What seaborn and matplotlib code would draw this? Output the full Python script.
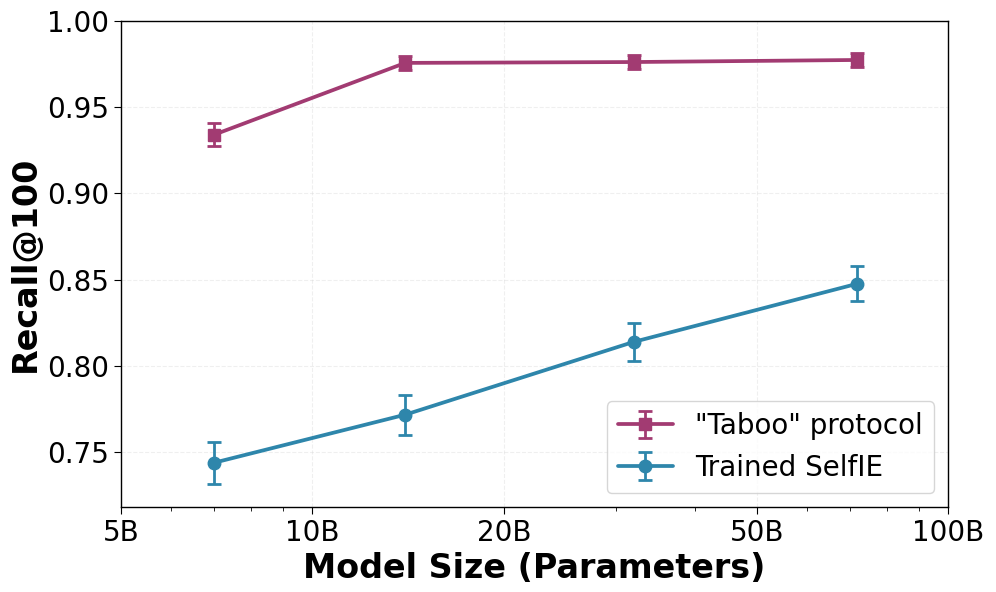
import matplotlib
matplotlib.use("Agg")
import matplotlib.pyplot as plt
import seaborn as sns
import numpy as np
from matplotlib.ticker import FixedLocator, FixedFormatter, NullFormatter, LogLocator

sns.set_style("ticks")
plt.rcParams['font.family'] = ['DejaVu Sans']
plt.rcParams.update({"text.color": "black", "axes.labelcolor": "black",
                     "xtick.color": "black", "ytick.color": "black"})

sizes = [7, 14, 32, 72]  # billions of parameters
taboo_vals = [0.934, 0.9757, 0.9762, 0.9774]
taboo_err = [0.0068, 0.0040, 0.0040, 0.0040]
selfie_vals = [0.7437, 0.7716, 0.8138, 0.8476]
selfie_err = [0.0123, 0.0116, 0.0108, 0.0102]

xticks = [5, 10, 20, 50, 100]
xtick_labels = ["5B", "10B", "20B", "50B", "100B"]

fig, ax = plt.subplots(figsize=(9.96, 5.92), dpi=100)
fig.subplots_adjust(left=0.1215, right=0.952, top=0.9645, bottom=0.1435)

ax.errorbar(sizes, taboo_vals, yerr=taboo_err, color="#A23B72", marker="s",
            markersize=9, linewidth=2.7, capsize=5, capthick=2, elinewidth=2,
            label='"Taboo" protocol')
ax.errorbar(sizes, selfie_vals, yerr=selfie_err, color="#2E86AB", marker="o",
            markersize=9, linewidth=2.7, capsize=5, capthick=2, elinewidth=2,
            label="Trained SelfIE")

ax.set_xscale("log")
ax.set_xlim(5, 100)
ax.set_ylim(0.718, 1.0)
ax.xaxis.set_major_locator(FixedLocator(xticks))
ax.xaxis.set_major_formatter(FixedFormatter(xtick_labels))
ax.xaxis.set_minor_locator(LogLocator(base=10, subs=np.arange(2, 10)))
ax.xaxis.set_minor_formatter(NullFormatter())
ax.set_yticks([0.75, 0.80, 0.85, 0.90, 0.95, 1.00])
ax.set_yticklabels(["0.75", "0.80", "0.85", "0.90", "0.95", "1.00"])

ax.tick_params(axis="both", which="major", labelsize=20, length=5)
ax.tick_params(axis="x", which="minor", length=3)

ax.grid(True, which="major", linestyle="--", alpha=0.3)
ax.set_xlabel("Model Size (Parameters)", fontsize=24, fontweight="bold", labelpad=4)
ax.set_ylabel("Recall@100", fontsize=24, fontweight="bold", labelpad=4)

for s in ax.spines.values():
    s.set_linewidth(1.0)
    s.set_color("black")

ax.legend(loc="lower right", fontsize=20, frameon=True)

fig.savefig("out.png", dpi=100)
